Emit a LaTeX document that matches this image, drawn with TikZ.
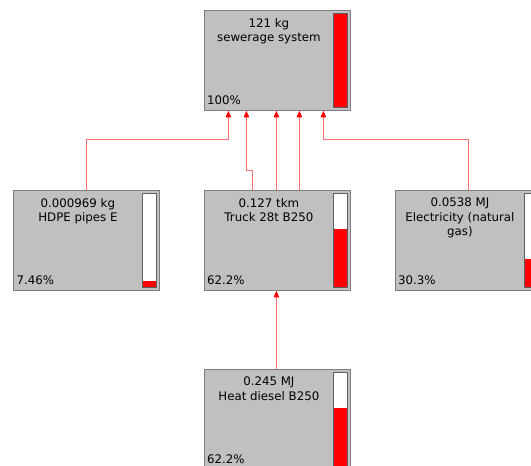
\documentclass[tikz,border=0pt]{standalone}
\usepackage{fontspec}
\setmainfont{DejaVu Sans}
\usetikzlibrary{arrows.meta,calc}
\definecolor{procfill}{RGB}{192,192,192}
\definecolor{procline}{RGB}{125,125,125}
\definecolor{barline}{RGB}{95,95,95}
\definecolor{flowred}{RGB}{255,110,110}

\begin{document}
\begin{tikzpicture}[x=1pt,y=-1pt,>={Triangle[width=5.5pt,length=6.5pt]},
  proc/.style={draw=procline,fill=procfill,line width=0.8pt,minimum width=146pt,minimum height=100pt,inner sep=0pt,anchor=north west},
  txt/.style={anchor=north,align=center,inner sep=0pt,font=\fontsize{11.8}{14.5}\selectfont},
  pct/.style={anchor=base west,inner sep=0pt,font=\fontsize{11.8}{14.5}\selectfont},
  bar/.style={draw=barline,fill=white,line width=0.7pt,minimum width=14pt,minimum height=94pt,inner sep=0pt,anchor=north east},
  flow/.style={draw=flowred,line width=0.7pt,-{Triangle[width=5.5pt,length=6.5pt,red]}}]
\useasboundingbox (0,0) rectangle (531,466);
\clip (0,0) rectangle (531,466);
% process boxes
\node[proc] (top) at (204,10) {};
\node[proc] (hdpe) at (13,190) {};
\node[proc] (truck) at (204,190) {};
\node[proc] (elec) at (395,190) {};
\node[proc] (heat) at (204,369) {};
% texts
\node[txt] (toptxt) at ([xshift=-8.5pt,yshift=-8pt]top.north) {121 kg\\sewerage system};
\node[txt] (hdpetxt) at ([xshift=-8.5pt,yshift=-8pt]hdpe.north) {0.000969 kg\\HDPE pipes E};
\node[txt] (trucktxt) at ([xshift=-8.5pt,yshift=-8pt]truck.north) {0.127 tkm\\Truck 28t B250};
\node[txt] (electxt) at ([xshift=-8.5pt,yshift=-8pt]elec.north) {0.0538 MJ\\Electricity (natural\\gas)};
\node[txt] (heattxt) at ([xshift=-8.5pt,yshift=-8pt]heat.north) {0.245 MJ\\Heat diesel B250};
\node[pct] (toppct) at ([xshift=3pt,yshift=6.7pt]top.south west) {100\%};
\node[pct] (hdpepct) at ([xshift=3.5pt,yshift=6.7pt]hdpe.south west) {7.46\%};
\node[pct] (truckpct) at ([xshift=3pt,yshift=6.7pt]truck.south west) {62.2\%};
\node[pct] (elecpct) at ([xshift=3pt,yshift=6.7pt]elec.south west) {30.3\%};
\node[pct] (heatpct) at ([xshift=3pt,yshift=6.7pt]heat.south west) {62.2\%};
% share bars
\node[bar] (topbar) at ([xshift=-3pt,yshift=-3pt]top.north east) {};
\node[bar] (hdpebar) at ([xshift=-3pt,yshift=-3pt]hdpe.north east) {};
\node[bar] (truckbar) at ([xshift=-3pt,yshift=-3pt]truck.north east) {};
\node[bar] (elecbar) at ([xshift=-3pt,yshift=-3pt]elec.north east) {};
\node[bar] (heatbar) at ([xshift=-3pt,yshift=-3pt]heat.north east) {};
\fill[red] ([xshift=.4pt,yshift=.4pt]topbar.south west) rectangle ([xshift=-.4pt,yshift=93.6pt]topbar.south east);
\fill[red] ([xshift=.4pt,yshift=.4pt]hdpebar.south west) rectangle ([xshift=-.4pt,yshift=7pt]hdpebar.south east);
\fill[red] ([xshift=.4pt,yshift=.4pt]truckbar.south west) rectangle ([xshift=-.4pt,yshift=58.5pt]truckbar.south east);
\fill[red] ([xshift=.4pt,yshift=.4pt]elecbar.south west) rectangle ([xshift=-.4pt,yshift=28.5pt]elecbar.south east);
\fill[red] ([xshift=.4pt,yshift=.4pt]heatbar.south west) rectangle ([xshift=-.4pt,yshift=58.5pt]heatbar.south east);
% flows
\draw[flow] (hdpe.north) |- ([xshift=-49pt,yshift=-29pt]top.south) -- ([xshift=-49pt]top.south);
\draw[flow] ([xshift=-25pt]truck.north) |- ([xshift=-31pt,yshift=-60pt]top.south) -- ([xshift=-31pt]top.south);
\draw[flow] ([xshift=-1pt]truck.north) -- ([xshift=-1pt]top.south);
\draw[flow] ([xshift=22pt]truck.north) -- ([xshift=22pt]top.south);
\draw[flow] (elec.north) |- ([xshift=46pt,yshift=-29pt]top.south) -- ([xshift=46pt]top.south);
\draw[flow] ([xshift=-1pt]heat.north) -- ([xshift=-1pt]truck.south);
\end{tikzpicture}
\end{document}
